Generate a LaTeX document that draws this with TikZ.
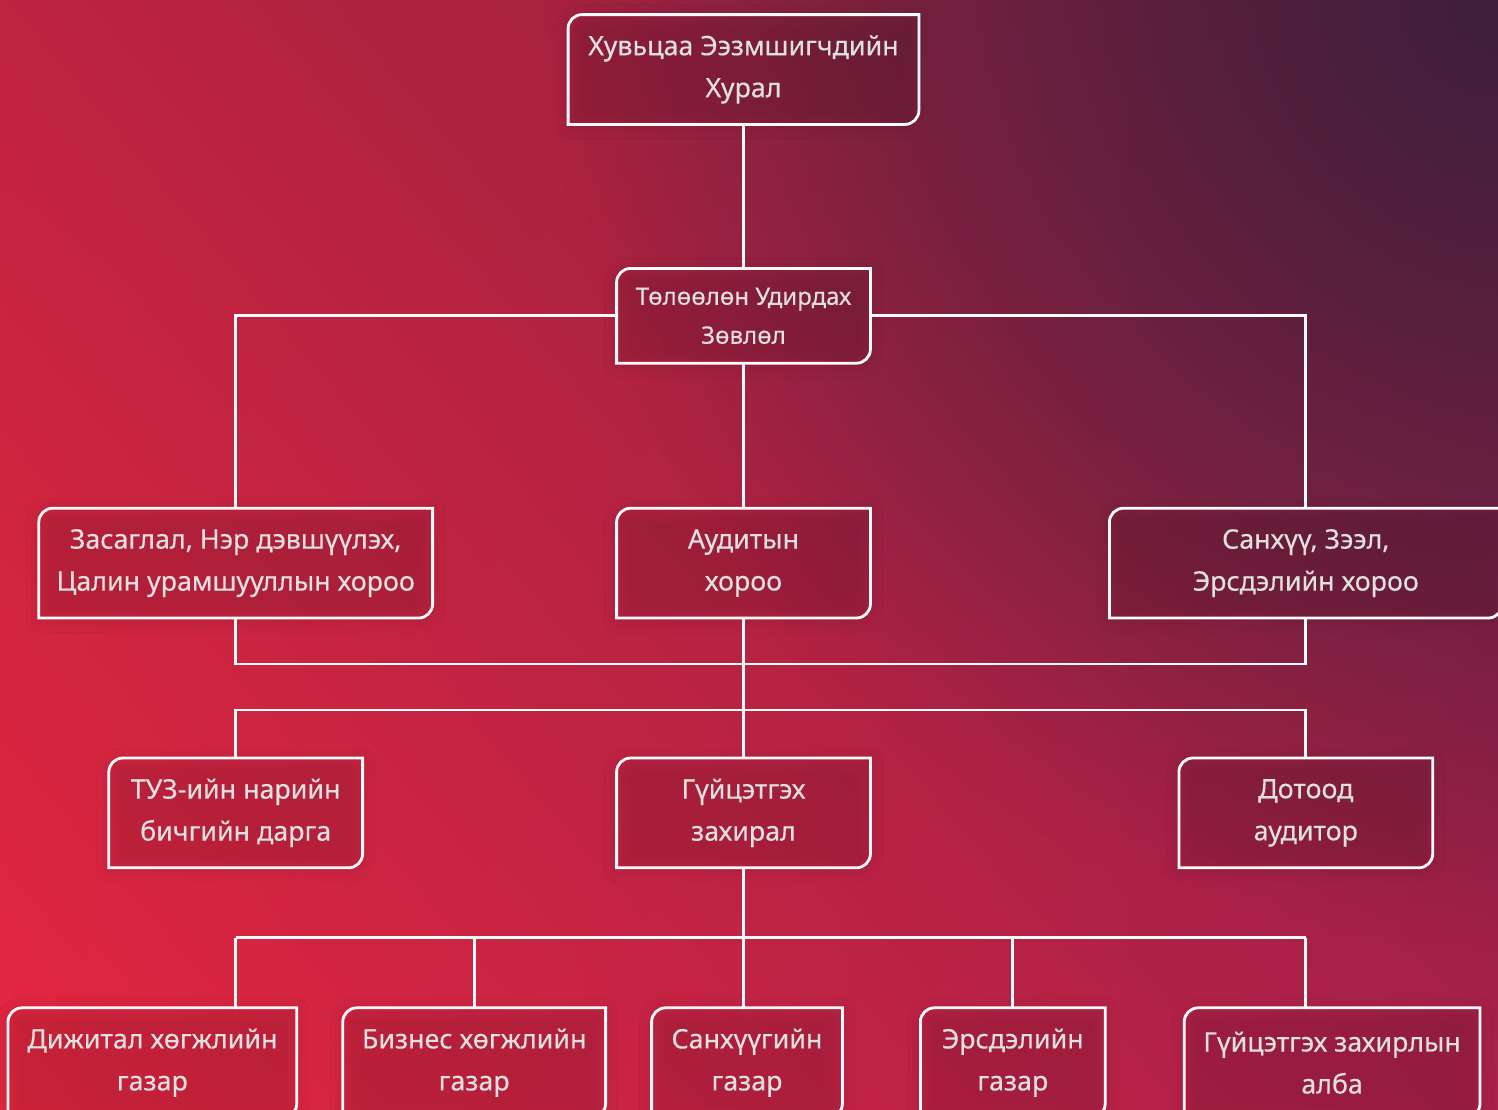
\documentclass[tikz,border=0pt]{standalone}
\usepackage{fontspec}
\setmainfont{Noto Sans}[FakeBold=0.35]
\usepackage{tikz}
\usetikzlibrary{positioning,shadings,fadings,shadows.blur}
\definecolor{bgbl}{HTML}{E42640}
\definecolor{bgtl}{HTML}{BE2340}
\definecolor{bgtr}{HTML}{80213F}
\definecolor{bgbr}{HTML}{A8204A}
\definecolor{bgdark}{HTML}{3E1F3C}
\tikzfading[name=cornerglow, inner color=transparent!0, outer color=transparent!100]
\tikzset{
    %Define style for boxes
    box/.style={
           rectangle,
           inner sep=0pt,
           minimum height=54.5pt,
           align=center,
           text=white,
           font=\fontsize{13.4}{21}\selectfont},
    smallbox/.style={
           box,
           minimum height=47pt,
           font=\fontsize{12}{19.5}\selectfont},
    % Define outline and connector style
    boxline/.style={
           draw=white!94!pink,
           line width=1.4pt,
           blur shadow={shadow xshift=0pt, shadow yshift=-1pt,
                        shadow blur radius=6pt, shadow opacity=12}},
    wire/.style={
           draw=white!94!pink,
           line width=1.4pt}
}
\begin{document}
\begin{tikzpicture}[x=0.5pt,y=-0.5pt]
\useasboundingbox (0,0) rectangle (1498,1109);
\shade[upper left=bgtl, upper right=bgtr, lower left=bgbl, lower right=bgbr]
	(0,0) rectangle (1498,1109);
\fill[bgdark, path fading=cornerglow] (1498,0) circle (950);
\node[box, minimum width=175pt] (hv) at (743.5,69.5) {Хувьцаа Ээзмшигчдийн\\Хурал};
\node[smallbox, minimum width=126.5pt, below=72pt of hv] (board) {Төлөөлөн Удирдах\\Зөвлөл};
\node[box, minimum width=126.5pt, below=72.5pt of board] (audit) {Аудитын\\хороо};
\node[box, minimum width=196.5pt, left=92pt of audit] (zasag) {Засаглал, Нэр дэвшүүлэх,\\Цалин урамшууллын хороо};
\node[box, minimum width=196pt, right=119.5pt of audit] (sanhuu) {Санхүү, Зээл,\\Эрсдэлийн хороо};
\node[box, minimum width=126.5pt, below=70pt of audit] (ceo) {Гүйцэтгэх\\захирал};
\node[box, minimum width=126.5pt, below=70pt of zasag] (tuzsec) {ТУЗ-ийн нарийн\\бичгийн дарга};
\node[box, minimum width=126.5pt, below=70pt of sanhuu] (dotood) {Дотоод\\аудитор};
\node[box, minimum width=95pt, below=70pt of ceo, xshift=1.75pt] (fin) {Санхүүгийн\\газар};
\node[box, minimum width=131pt, left=23pt of fin] (biz) {Бизнес хөгжлийн\\газар};
\node[box, minimum width=144pt, left=23pt of biz] (dig) {Дижитал хөгжлийн\\газар};
\node[box, minimum width=92pt, right=39pt of fin] (risk) {Эрсдэлийн\\газар};
\node[box, minimum width=147.5pt, right=39.5pt of risk] (alba) {Гүйцэтгэх захирлын\\алба};
% outlines: top left and bottom right corners rounded
\foreach \n in {hv,board,audit,zasag,sanhuu,ceo,tuzsec,dotood,fin,biz,dig,risk,alba}
	\draw[boxline] (\n.south west) -- ([yshift=-7pt]\n.north west)
		arc[start angle=180, end angle=90, radius=7pt] -- (\n.north east)
		-- ([yshift=7pt]\n.south east)
		arc[start angle=0, end angle=-90, radius=7pt] -- cycle;
% connectors
\coordinate (bus1) at ([yshift=-23pt]audit.south);
\coordinate (bus2) at ([yshift=24pt]ceo.north);
\coordinate (bus3) at ([yshift=-35pt]ceo.south);
\draw[wire] (hv) -- (board);
\draw[wire] (board.west) -| (zasag.north);
\draw[wire] (board.east) -| (sanhuu.north);
\draw[wire] (board) -- (audit);
\draw[wire] (zasag.south) |- (bus1) -| (sanhuu.south);
\draw[wire] (audit) -- (ceo);
\draw[wire] (tuzsec.north) |- (bus2) -| (dotood.north);
\draw[wire] (ceo.south) -- (ceo.south |- fin.north);
\draw[wire] (tuzsec.south |- bus3) -- (dotood.south |- bus3);
\draw[wire] (tuzsec.south |- bus3) -- (tuzsec.south |- dig.north);
\draw[wire] (dotood.south |- bus3) -- (dotood.south |- alba.north);
\foreach \n in {biz,risk}
	\draw[wire] (\n.north |- bus3) -- (\n.north);
\end{tikzpicture}
\end{document}
